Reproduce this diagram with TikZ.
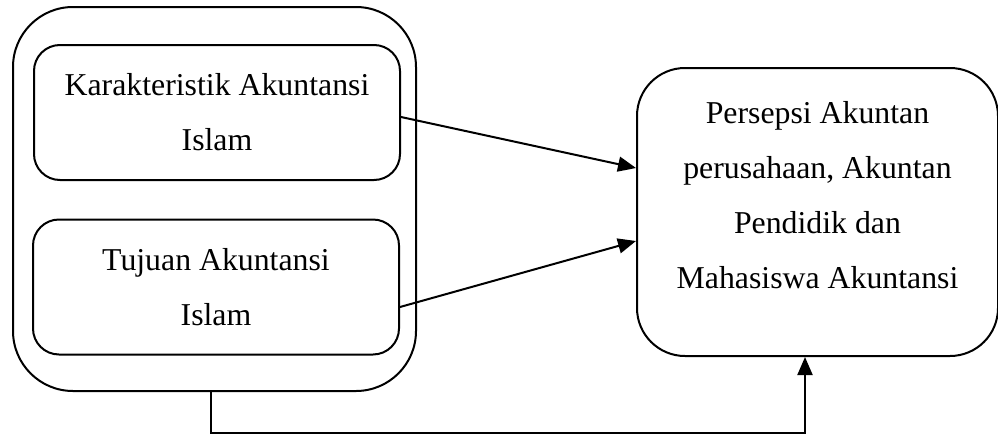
\documentclass[tikz,border=0pt]{standalone}
\usepackage{fontspec}
\setmainfont{Liberation Serif}
\usepackage{tikz}
\usetikzlibrary{arrows.meta, calc}
\newcommand{\boxFont}{\fontsize{31.8}{55}\selectfont}
\tikzset{
	roundBox/.style={draw, line width=2pt, rectangle, align=center, font=\boxFont},
	innerBox/.style={roundBox, rounded corners=26pt, minimum width=366pt, minimum height=135pt},
	outerBox/.style={roundBox, rounded corners=60pt, minimum width=403pt, minimum height=384pt},
	arrowLine/.style={line width=2pt, -{Triangle[length=18pt, width=15pt]}}
}

\begin{document}
\begin{tikzpicture}[x=1pt, y=-1pt, line cap=round]
	\useasboundingbox (0,0) rectangle (998,434);

	% left group
	\node[outerBox] (group) at (214.5,199) {};
	\node[innerBox] (karakteristik) at (217,112.5) {Karakteristik Akuntansi\\Islam};
	\node[innerBox] (tujuan) at (216,287) {Tujuan Akuntansi\\Islam};

	% right box
	\node[roundBox, rounded corners=48pt, minimum width=361pt, minimum height=288pt] (persepsi) at (817.5,212) {};
	\node[align=center, font=\boxFont] (persepsiText) at (817.5,195) {Persepsi Akuntan\\perusahaan, Akuntan\\Pendidik dan\\Mahasiswa Akuntansi};

	\draw[arrowLine] ($(karakteristik.east)+(0,4.5)$) -- ($(persepsi.west)+(0,-44)$);
	\draw[arrowLine] ($(tujuan.east)+(0,20)$) -- ($(persepsi.west)+(0,29)$);

	\coordinate (turn) at ($(group.south)+(-3.5,41)$);
	\draw[arrowLine] ($(group.south)+(-3.5,0)$) -- (turn) -| ($(persepsi.south)+(-12.5,0)$);

\end{tikzpicture}
\end{document}
